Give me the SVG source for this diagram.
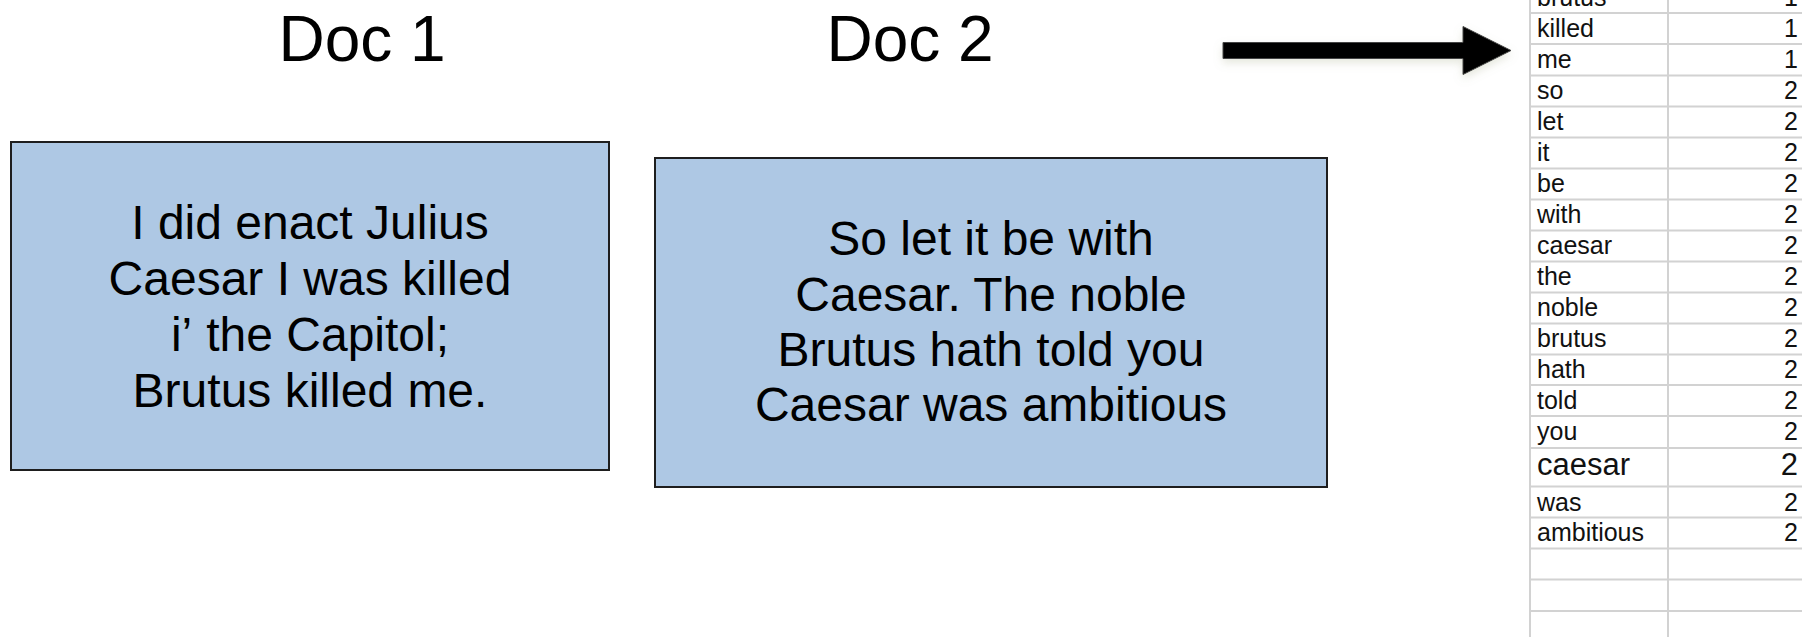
<svg xmlns="http://www.w3.org/2000/svg" width="1802" height="637" viewBox="0 0 1802 637">
  <style>
    .title { font-family: "Liberation Sans", Arial, sans-serif; font-size: 64px; fill: #000; text-anchor: middle; }
    .box { fill: #aec8e4; stroke: #1e1e1e; stroke-width: 2; }
    .boxtext { font-family: "Liberation Sans", Arial, sans-serif; font-size: 48px; fill: #000; text-anchor: middle; }
    .grid { stroke: #d2d2d2; stroke-width: 2; fill: none; }
    .cell { font-family: "Liberation Sans", Arial, sans-serif; font-size: 25px; fill: #111; }
    .num { font-family: "Liberation Sans", Arial, sans-serif; font-size: 25px; fill: #111; text-anchor: end; }
    .big { font-size: 31px; }
  </style>
  <defs>
    <filter id="shadow" x="-10%" y="-50%" width="120%" height="220%">
      <feDropShadow dx="0" dy="4" stdDeviation="4" flood-color="#9aa07a" flood-opacity="0.25"/>
    </filter>
  </defs>
  <rect width="1802" height="637" fill="#ffffff"/>

  <g id="doc1-title"><text class="title" x="362" y="61">Doc 1</text></g>
  <g id="doc2-title"><text class="title" x="910" y="61">Doc 2</text></g>

  <g id="doc1">
    <rect class="box" x="11" y="142" width="598" height="328"/>
    <text class="boxtext" x="310" y="239">I did enact Julius</text>
    <text class="boxtext" x="310" y="295">Caesar I was killed</text>
    <text class="boxtext" x="310" y="351">i’<tspan dx="14">the Capitol;</tspan></text>
    <text class="boxtext" x="310" y="407">Brutus killed me.</text>
  </g>

  <g id="doc2">
    <rect class="box" x="655" y="158" width="672" height="329"/>
    <text class="boxtext" x="991" y="255">So let it be with</text>
    <text class="boxtext" x="991" y="311">Caesar. The noble</text>
    <text class="boxtext" x="991" y="366">Brutus hath told you</text>
    <text class="boxtext" x="991" y="421">Caesar was ambitious</text>
  </g>

  <g id="connectors">
    <polygon points="1223,42.5 1463,42.5 1463,26.5 1511,50.5 1463,74.5 1463,58.5 1223,58.5" fill="#000" stroke="#444" stroke-width="1" filter="url(#shadow)"/>
  </g>

  <g id="word-table">
    <g class="grid">
      <line x1="1530" y1="0" x2="1530" y2="637"/>
      <line x1="1668" y1="0" x2="1668" y2="637"/>
      <line x1="1530" y1="13" x2="1802" y2="13"/>
      <line x1="1530" y1="44" x2="1802" y2="44"/>
      <line x1="1530" y1="75.5" x2="1802" y2="75.5"/>
      <line x1="1530" y1="106.5" x2="1802" y2="106.5"/>
      <line x1="1530" y1="137.5" x2="1802" y2="137.5"/>
      <line x1="1530" y1="168.5" x2="1802" y2="168.5"/>
      <line x1="1530" y1="199.5" x2="1802" y2="199.5"/>
      <line x1="1530" y1="230.5" x2="1802" y2="230.5"/>
      <line x1="1530" y1="261.5" x2="1802" y2="261.5"/>
      <line x1="1530" y1="292.5" x2="1802" y2="292.5"/>
      <line x1="1530" y1="323.5" x2="1802" y2="323.5"/>
      <line x1="1530" y1="354.5" x2="1802" y2="354.5"/>
      <line x1="1530" y1="385" x2="1802" y2="385"/>
      <line x1="1530" y1="416" x2="1802" y2="416"/>
      <line x1="1530" y1="448" x2="1802" y2="448"/>
      <line x1="1530" y1="486.5" x2="1802" y2="486.5"/>
      <line x1="1530" y1="517.5" x2="1802" y2="517.5"/>
      <line x1="1530" y1="548.5" x2="1802" y2="548.5"/>
      <line x1="1530" y1="579.5" x2="1802" y2="579.5"/>
      <line x1="1530" y1="611" x2="1802" y2="611"/>
    </g>
    <g>
      <text class="cell" x="1537" y="5.5">brutus</text><text class="num" x="1798" y="5.5">1</text>
      <text class="cell" x="1537" y="36.5">killed</text><text class="num" x="1798" y="36.5">1</text>
      <text class="cell" x="1537" y="67.5">me</text><text class="num" x="1798" y="67.5">1</text>
      <text class="cell" x="1537" y="98.5">so</text><text class="num" x="1798" y="98.5">2</text>
      <text class="cell" x="1537" y="129.5">let</text><text class="num" x="1798" y="129.5">2</text>
      <text class="cell" x="1537" y="160.5">it</text><text class="num" x="1798" y="160.5">2</text>
      <text class="cell" x="1537" y="191.5">be</text><text class="num" x="1798" y="191.5">2</text>
      <text class="cell" x="1537" y="222.5">with</text><text class="num" x="1798" y="222.5">2</text>
      <text class="cell" x="1537" y="253.5">caesar</text><text class="num" x="1798" y="253.5">2</text>
      <text class="cell" x="1537" y="284.5">the</text><text class="num" x="1798" y="284.5">2</text>
      <text class="cell" x="1537" y="315.5">noble</text><text class="num" x="1798" y="315.5">2</text>
      <text class="cell" x="1537" y="346.5">brutus</text><text class="num" x="1798" y="346.5">2</text>
      <text class="cell" x="1537" y="377.5">hath</text><text class="num" x="1798" y="377.5">2</text>
      <text class="cell" x="1537" y="408.5">told</text><text class="num" x="1798" y="408.5">2</text>
      <text class="cell" x="1537" y="439.5">you</text><text class="num" x="1798" y="439.5">2</text>
      <text class="cell big" x="1537" y="475">caesar</text><text class="num big" x="1798" y="475">2</text>
      <text class="cell" x="1537" y="510.5">was</text><text class="num" x="1798" y="510.5">2</text>
      <text class="cell" x="1537" y="541">ambitious</text><text class="num" x="1798" y="541">2</text>
    </g>
  </g>
</svg>
